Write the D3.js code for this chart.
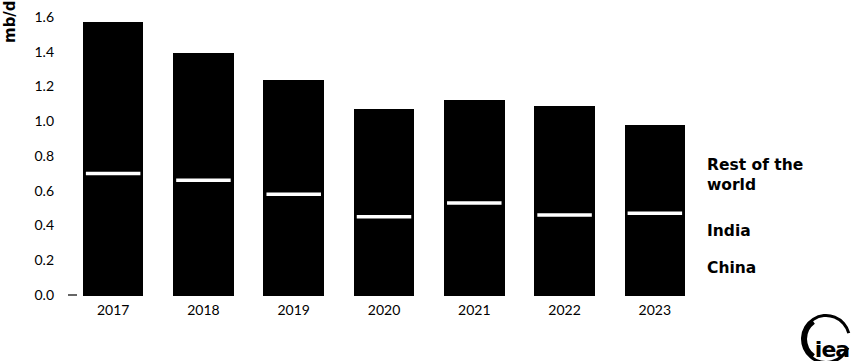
<!DOCTYPE html>
<html>
<head>
<meta charset="utf-8">
<script src="https://cdn.jsdelivr.net/npm/d3@7"></script>
<style>
  html, body { margin: 0; padding: 0; background: #fff; }
  svg { display: block; }
</style>
</head>
<body>
<div id="chart"></div>
<script>
// Stacked demand bars, mb/d
const years = ['2017', '2018', '2019', '2020', '2021', '2022', '2023'];
const china = [0.40, 0.37, 0.33, 0.22, 0.30, 0.27, 0.31];
const india = [0.30, 0.29, 0.25, 0.23, 0.23, 0.19, 0.16];
const rest  = [0.87, 0.73, 0.66, 0.62, 0.59, 0.63, 0.51];
const yTicks = [0, 0.2, 0.4, 0.6, 0.8, 1.0, 1.2, 1.4, 1.6];
const seriesNames = ['China', 'India', 'Rest of the world'];

const W = 859, H = 361;
const TICK_FONT = 'Lato, "Noto Sans", sans-serif';
const BOLD_FONT = '"DejaVu Sans", "Noto Sans", sans-serif';

const svg = d3.select('#chart').append('svg')
  .attr('width', W).attr('height', H);

const x = d3.scaleBand().domain(years).range([68, 700])
  .paddingInner(0.33).paddingOuter(0.165);
const y = d3.scaleLinear().domain([0, 1.6]).range([295, 17]);

const rows = years.map((yr, i) => ({ year: yr, China: china[i], India: india[i], 'Rest of the world': rest[i] }));
const stacked = d3.stack().keys(seriesNames)(rows);

// Bars
svg.append('g').attr('shape-rendering', 'crispEdges')
  .selectAll('g').data(stacked).join('g')
  .selectAll('rect').data(d => d).join('rect')
  .attr('x', d => x(d.data.year))
  .attr('width', x.bandwidth())
  .attr('y', d => y(d[1]))
  .attr('height', d => y(d[0]) - y(d[1]) + 1)
  .attr('fill', '#000');

// White divider between India and rest of the world
const restLayer = stacked[2];
svg.append('g').selectAll('line').data(restLayer).join('line')
  .attr('x1', d => x(d.data.year) + 3)
  .attr('x2', d => x(d.data.year) + x.bandwidth() - 3)
  .attr('y1', d => y(d[0]))
  .attr('y2', d => y(d[0]))
  .attr('stroke', '#fff')
  .attr('stroke-width', 3.5);

// Y axis
const yAxis = svg.append('g')
  .attr('transform', 'translate(54,0)')
  .call(d3.axisLeft(y).tickValues(yTicks).tickFormat(d3.format('.1f')).tickSize(0).tickPadding(0));
yAxis.select('.domain').remove();
yAxis.selectAll('text')
  .attr('font-family', TICK_FONT).attr('font-weight', 400)
  .attr('font-size', 14).attr('fill', '#000');

// zero tick
svg.append('line')
  .attr('x1', 68).attr('x2', 77)
  .attr('y1', y(0)).attr('y2', y(0))
  .attr('stroke', '#000').attr('stroke-width', 1.2);

// X axis
const xAxis = svg.append('g')
  .attr('transform', `translate(0,${y(0) + 10})`)
  .call(d3.axisBottom(x).tickSize(0).tickPadding(0));
xAxis.select('.domain').remove();
xAxis.selectAll('text')
  .attr('font-family', TICK_FONT).attr('font-weight', 400)
  .attr('font-size', 14).attr('fill', '#000');

// Unit label
svg.append('text')
  .attr('transform', 'translate(15,43) rotate(-90)')
  .attr('font-family', BOLD_FONT).attr('font-weight', 700)
  .attr('font-size', 15).attr('fill', '#000')
  .text('mb/d');

// Legend labels placed next to the last bar's segments
const lastIdx = years.length - 1;
const legendX = 707;
const mids = stacked.map(layer => (y(layer[lastIdx][0]) + y(layer[lastIdx][1])) / 2);
const legend = svg.append('g')
  .attr('font-family', BOLD_FONT).attr('font-weight', 700)
  .attr('font-size', 15.5).attr('fill', '#000');

legend.append('text').attr('x', legendX).attr('y', mids[0]).attr('dy', '0.35em').text('China');
legend.append('text').attr('x', legendX).attr('y', mids[1] + 3).attr('dy', '0.35em').text('India');
const restText = legend.append('text').attr('x', legendX).attr('y', mids[2] - 4).attr('dy', '0.35em');
restText.append('tspan').attr('x', legendX).text('Rest of the');
restText.append('tspan').attr('x', legendX).attr('dy', 20).text('world');

// IEA logo
const logo = svg.append('g').attr('transform', 'translate(826,339)');
logo.append('path')
  .attr('d', d3.arc().innerRadius(22).outerRadius(25).startAngle(Math.PI * 0.62).endAngle(Math.PI * 2.42)())
  .attr('fill', '#000');
logo.append('path')
  .attr('d', d3.arc().innerRadius(19).outerRadius(24).startAngle(Math.PI * 1.2).endAngle(Math.PI * 1.8)())
  .attr('fill', '#000');
logo.append('text')
  .attr('x', 6).attr('y', 18)
  .attr('text-anchor', 'middle')
  .attr('font-family', BOLD_FONT).attr('font-weight', 700)
  .attr('font-size', 22).attr('letter-spacing', -1).attr('fill', '#000')
  .text('iea');
</script>
</body>
</html>
